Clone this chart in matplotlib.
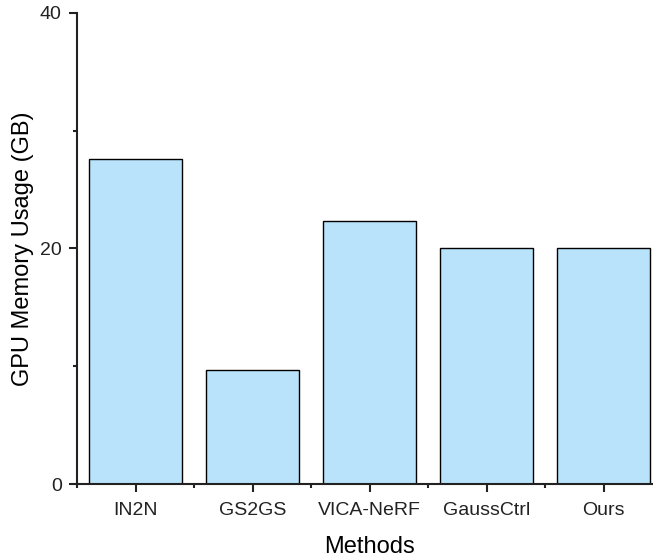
import matplotlib
matplotlib.use('Agg')
from matplotlib import pyplot as plt
from matplotlib.ticker import MultipleLocator, FixedLocator

plt.rcParams['font.family'] = ['Liberation Sans', 'DejaVu Sans']

methods = ["IN2N", "GS2GS", "VICA-NeRF", "GaussCtrl", "Ours"]
memory_gb = [27.6, 9.7, 22.3, 20.0, 20.05]

fig = plt.figure(figsize=(6.53, 5.57), dpi=100)
ax = fig.add_axes([0.118, 0.131, 0.896, 0.846])

x = list(range(len(methods)))
ax.bar(x, memory_gb, width=0.8, color='#B9E3FB', edgecolor='black', linewidth=1.0, zorder=2)

ax.set_xlim(-0.5, 4.5)
ax.set_ylim(0, 40)
ax.set_xticks(x)
ax.set_xticklabels(methods)
ax.xaxis.set_minor_locator(FixedLocator([i - 0.5 for i in range(len(methods) + 1)]))
ax.yaxis.set_major_locator(MultipleLocator(20))
ax.yaxis.set_minor_locator(MultipleLocator(10))

ax.spines['top'].set_visible(False)
ax.spines['right'].set_visible(False)
for side in ['left', 'bottom']:
    ax.spines[side].set_linewidth(1.5)
    ax.spines[side].set_color('#222222')

ax.tick_params(which='major', direction='out', length=6, width=1.5, labelsize=14, colors='#222222')
ax.tick_params(which='minor', direction='out', length=3, width=1.5, colors='#222222')
ax.tick_params(axis='x', pad=7)
ax.tick_params(axis='y', pad=5)

ax.set_xlabel("Methods", fontsize=17, labelpad=12)
ax.set_ylabel("GPU Memory Usage (GB)", fontsize=17, labelpad=4)

fig.savefig("out.png", dpi=100)
